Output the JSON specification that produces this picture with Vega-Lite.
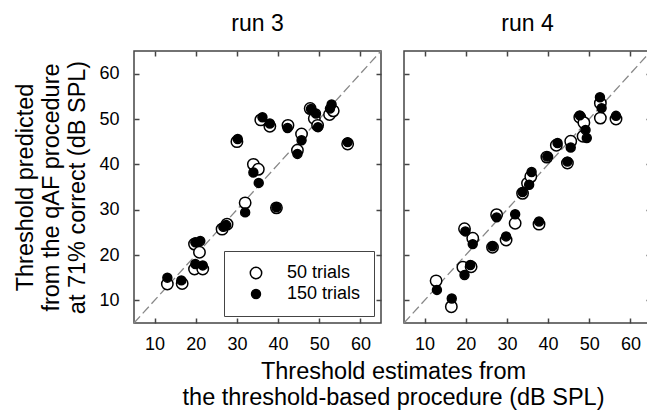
{
  "$schema": "https://vega.github.io/schema/vega-lite/v6.json",
  "padding": {"left": 13, "top": 12, "right": 0, "bottom": 0},
  "autosize": {"type": "pad"},
  "background": "white",
  "bounds": "flush",
  "spacing": 23,
  "config": {
    "font": "Liberation Sans",
    "view": {"stroke": "#444", "strokeWidth": 1.5},
    "axis": {"domain": false, "grid": false, "tickColor": "#444", "tickWidth": 1.5, "tickSize": -5, "labelFontSize": 18, "labelColor": "black", "titleFontWeight": "normal", "titleFontSize": 23.5, "titleColor": "black", "titleLineHeight": 26, "labelFont": "Liberation Sans", "titleFont": "Liberation Sans"},
    "title": {"fontSize": 23, "fontWeight": "normal", "color": "black", "font": "Liberation Sans", "offset": 12},
    "legend": {"orient": "bottom-right", "offset": 7, "strokeColor": "#444", "fillColor": "white", "padding": 13, "labelFontSize": 18, "labelColor": "black", "labelFont": "Liberation Sans", "symbolStrokeWidth": 1.5, "labelOffset": 22, "rowPadding": 3, "symbolOffset": 10}
  },
  "datasets": {
    "diag": [{"estimate": 5, "predicted": 5}, {"estimate": 65, "predicted": 65}],
    "run3": [
      {"estimate": 13.1, "predicted": 13.6, "trials": "50 trials"},
      {"estimate": 16.7, "predicted": 13.7, "trials": "50 trials"},
      {"estimate": 19.7, "predicted": 22.4, "trials": "50 trials"},
      {"estimate": 20.9, "predicted": 20.6, "trials": "50 trials"},
      {"estimate": 19.7, "predicted": 16.9, "trials": "50 trials"},
      {"estimate": 21.7, "predicted": 16.9, "trials": "50 trials"},
      {"estimate": 26.4, "predicted": 25.7, "trials": "50 trials"},
      {"estimate": 27.6, "predicted": 26.8, "trials": "50 trials"},
      {"estimate": 32.0, "predicted": 31.5, "trials": "50 trials"},
      {"estimate": 30.0, "predicted": 45.0, "trials": "50 trials"},
      {"estimate": 34.0, "predicted": 40.0, "trials": "50 trials"},
      {"estimate": 35.2, "predicted": 38.9, "trials": "50 trials"},
      {"estimate": 39.6, "predicted": 30.4, "trials": "50 trials"},
      {"estimate": 35.8, "predicted": 49.8, "trials": "50 trials"},
      {"estimate": 38.0, "predicted": 48.4, "trials": "50 trials"},
      {"estimate": 42.4, "predicted": 48.6, "trials": "50 trials"},
      {"estimate": 45.7, "predicted": 46.7, "trials": "50 trials"},
      {"estimate": 44.7, "predicted": 43.1, "trials": "50 trials"},
      {"estimate": 47.8, "predicted": 52.3, "trials": "50 trials"},
      {"estimate": 48.8, "predicted": 50.1, "trials": "50 trials"},
      {"estimate": 49.6, "predicted": 48.6, "trials": "50 trials"},
      {"estimate": 52.5, "predicted": 51.0, "trials": "50 trials"},
      {"estimate": 53.4, "predicted": 51.8, "trials": "50 trials"},
      {"estimate": 56.9, "predicted": 44.5, "trials": "50 trials"},
      {"estimate": 13.1, "predicted": 15.0, "trials": "150 trials"},
      {"estimate": 16.5, "predicted": 14.4, "trials": "150 trials"},
      {"estimate": 19.9, "predicted": 22.8, "trials": "150 trials"},
      {"estimate": 21.1, "predicted": 23.1, "trials": "150 trials"},
      {"estimate": 19.9, "predicted": 18.0, "trials": "150 trials"},
      {"estimate": 21.7, "predicted": 17.7, "trials": "150 trials"},
      {"estimate": 26.7, "predicted": 26.2, "trials": "150 trials"},
      {"estimate": 27.4, "predicted": 26.6, "trials": "150 trials"},
      {"estimate": 32.0, "predicted": 29.4, "trials": "150 trials"},
      {"estimate": 30.2, "predicted": 45.6, "trials": "150 trials"},
      {"estimate": 34.0, "predicted": 38.2, "trials": "150 trials"},
      {"estimate": 35.3, "predicted": 35.9, "trials": "150 trials"},
      {"estimate": 39.6, "predicted": 30.5, "trials": "150 trials"},
      {"estimate": 36.2, "predicted": 50.4, "trials": "150 trials"},
      {"estimate": 38.0, "predicted": 49.0, "trials": "150 trials"},
      {"estimate": 42.3, "predicted": 48.0, "trials": "150 trials"},
      {"estimate": 45.7, "predicted": 45.3, "trials": "150 trials"},
      {"estimate": 44.7, "predicted": 42.3, "trials": "150 trials"},
      {"estimate": 48.0, "predicted": 52.2, "trials": "150 trials"},
      {"estimate": 49.2, "predicted": 51.2, "trials": "150 trials"},
      {"estimate": 49.7, "predicted": 48.2, "trials": "150 trials"},
      {"estimate": 52.6, "predicted": 52.3, "trials": "150 trials"},
      {"estimate": 53.0, "predicted": 53.2, "trials": "150 trials"},
      {"estimate": 56.9, "predicted": 44.9, "trials": "150 trials"}
    ],
    "run4": [
      {"estimate": 12.8, "predicted": 14.3, "trials": "50 trials"},
      {"estimate": 16.5, "predicted": 8.6, "trials": "50 trials"},
      {"estimate": 19.7, "predicted": 25.8, "trials": "50 trials"},
      {"estimate": 21.7, "predicted": 23.7, "trials": "50 trials"},
      {"estimate": 19.3, "predicted": 17.3, "trials": "50 trials"},
      {"estimate": 21.3, "predicted": 17.4, "trials": "50 trials"},
      {"estimate": 26.5, "predicted": 21.7, "trials": "50 trials"},
      {"estimate": 27.5, "predicted": 28.9, "trials": "50 trials"},
      {"estimate": 29.8, "predicted": 23.3, "trials": "50 trials"},
      {"estimate": 32.0, "predicted": 27.0, "trials": "50 trials"},
      {"estimate": 37.8, "predicted": 26.8, "trials": "50 trials"},
      {"estimate": 33.8, "predicted": 33.6, "trials": "50 trials"},
      {"estimate": 35.0, "predicted": 35.8, "trials": "50 trials"},
      {"estimate": 35.8, "predicted": 37.3, "trials": "50 trials"},
      {"estimate": 39.7, "predicted": 41.6, "trials": "50 trials"},
      {"estimate": 42.0, "predicted": 44.2, "trials": "50 trials"},
      {"estimate": 44.7, "predicted": 40.3, "trials": "50 trials"},
      {"estimate": 45.5, "predicted": 45.1, "trials": "50 trials"},
      {"estimate": 47.7, "predicted": 50.4, "trials": "50 trials"},
      {"estimate": 48.7, "predicted": 49.2, "trials": "50 trials"},
      {"estimate": 48.5, "predicted": 46.2, "trials": "50 trials"},
      {"estimate": 52.7, "predicted": 53.5, "trials": "50 trials"},
      {"estimate": 52.7, "predicted": 50.2, "trials": "50 trials"},
      {"estimate": 56.5, "predicted": 50.0, "trials": "50 trials"},
      {"estimate": 13.0, "predicted": 12.3, "trials": "150 trials"},
      {"estimate": 16.6, "predicted": 10.4, "trials": "150 trials"},
      {"estimate": 19.9, "predicted": 25.2, "trials": "150 trials"},
      {"estimate": 21.7, "predicted": 22.4, "trials": "150 trials"},
      {"estimate": 19.7, "predicted": 15.6, "trials": "150 trials"},
      {"estimate": 21.1, "predicted": 17.8, "trials": "150 trials"},
      {"estimate": 26.5, "predicted": 21.9, "trials": "150 trials"},
      {"estimate": 27.5, "predicted": 28.3, "trials": "150 trials"},
      {"estimate": 29.8, "predicted": 24.1, "trials": "150 trials"},
      {"estimate": 32.0, "predicted": 29.0, "trials": "150 trials"},
      {"estimate": 37.8, "predicted": 27.4, "trials": "150 trials"},
      {"estimate": 33.8, "predicted": 33.9, "trials": "150 trials"},
      {"estimate": 35.4, "predicted": 35.5, "trials": "150 trials"},
      {"estimate": 36.0, "predicted": 38.3, "trials": "150 trials"},
      {"estimate": 39.8, "predicted": 41.7, "trials": "150 trials"},
      {"estimate": 42.3, "predicted": 44.7, "trials": "150 trials"},
      {"estimate": 44.7, "predicted": 40.6, "trials": "150 trials"},
      {"estimate": 45.5, "predicted": 43.7, "trials": "150 trials"},
      {"estimate": 47.7, "predicted": 50.8, "trials": "150 trials"},
      {"estimate": 49.1, "predicted": 47.6, "trials": "150 trials"},
      {"estimate": 49.4, "predicted": 45.8, "trials": "150 trials"},
      {"estimate": 52.6, "predicted": 54.8, "trials": "150 trials"},
      {"estimate": 53.0, "predicted": 52.4, "trials": "150 trials"},
      {"estimate": 56.5, "predicted": 50.7, "trials": "150 trials"}
    ]
  },
  "hconcat": [
    {
      "width": 247,
      "height": 272,
      "title": "run 3",
      "layer": [
        {
          "data": {"name": "diag"},
          "mark": {"type": "line", "color": "#888", "strokeWidth": 1.3, "strokeDash": [9, 4]},
          "encoding": {
            "x": {"field": "estimate", "type": "quantitative", "scale": {"domain": [5, 65], "nice": false, "zero": false}, "axis": {"orient": "top", "labels": false, "title": null, "values": [10, 20, 30, 40, 50, 60]}},
            "y": {"field": "predicted", "type": "quantitative", "scale": {"domain": [5, 65], "nice": false, "zero": false}, "axis": {"orient": "right", "labels": false, "title": null, "values": [10, 20, 30, 40, 50, 60]}}
          }
        },
        {
          "data": {"name": "run3"},
          "mark": {"type": "point", "filled": true, "strokeWidth": 1.5, "opacity": 1},
          "encoding": {
            "x": {"field": "estimate", "type": "quantitative", "scale": {"domain": [5, 65], "nice": false, "zero": false}, "axis": {"orient": "bottom", "values": [10, 20, 30, 40, 50, 60], "labelPadding": 17, "title": ["Threshold estimates from", "the threshold-based procedure (dB SPL)"], "titleX": 259, "titlePadding": 6}},
            "y": {"field": "predicted", "type": "quantitative", "scale": {"domain": [5, 65], "nice": false, "zero": false}, "axis": {"orient": "left", "values": [10, 20, 30, 40, 50, 60], "labelPadding": 20, "title": ["Threshold predicted", "from the qAF procedure", "at 71% correct (dB SPL)"], "titlePadding": 9}},
            "fill": {"field": "trials", "type": "nominal", "scale": {"domain": ["50 trials", "150 trials"], "range": ["white", "black"]}, "legend": {"title": null}},
            "stroke": {"field": "trials", "type": "nominal", "scale": {"domain": ["50 trials", "150 trials"], "range": ["black", "black"]}, "legend": {"title": null}},
            "size": {"field": "trials", "type": "nominal", "scale": {"domain": ["50 trials", "150 trials"], "range": [130, 80]}, "legend": {"title": null}}
          }
        }
      ],
      "resolve": {"scale": {"x": "independent", "y": "independent"}}
    },
    {
      "width": 247,
      "height": 272,
      "title": "run 4",
      "layer": [
        {
          "data": {"name": "diag"},
          "mark": {"type": "line", "color": "#888", "strokeWidth": 1.3, "strokeDash": [9, 4]},
          "encoding": {
            "x": {"field": "estimate", "type": "quantitative", "scale": {"domain": [5, 65], "nice": false, "zero": false}, "axis": {"orient": "top", "labels": false, "title": null, "values": [10, 20, 30, 40, 50, 60]}},
            "y": {"field": "predicted", "type": "quantitative", "scale": {"domain": [5, 65], "nice": false, "zero": false}, "axis": {"orient": "right", "labels": false, "title": null, "values": [10, 20, 30, 40, 50, 60]}}
          }
        },
        {
          "data": {"name": "run4"},
          "mark": {"type": "point", "filled": true, "strokeWidth": 1.5, "opacity": 1},
          "encoding": {
            "x": {"field": "estimate", "type": "quantitative", "scale": {"domain": [5, 65], "nice": false, "zero": false}, "axis": {"orient": "bottom", "values": [10, 20, 30, 40, 50, 60], "labelPadding": 17, "title": null}},
            "y": {"field": "predicted", "type": "quantitative", "scale": {"domain": [5, 65], "nice": false, "zero": false}, "axis": {"orient": "left", "values": [10, 20, 30, 40, 50, 60], "labels": false, "title": null}},
            "fill": {"field": "trials", "type": "nominal", "scale": {"domain": ["50 trials", "150 trials"], "range": ["white", "black"]}, "legend": null},
            "stroke": {"field": "trials", "type": "nominal", "scale": {"domain": ["50 trials", "150 trials"], "range": ["black", "black"]}, "legend": null},
            "size": {"field": "trials", "type": "nominal", "scale": {"domain": ["50 trials", "150 trials"], "range": [130, 80]}, "legend": null}
          }
        }
      ],
      "resolve": {"scale": {"x": "independent", "y": "independent"}}
    }
  ],
  "resolve": {"legend": {"fill": "independent", "size": "independent", "stroke": "independent"}}
}
